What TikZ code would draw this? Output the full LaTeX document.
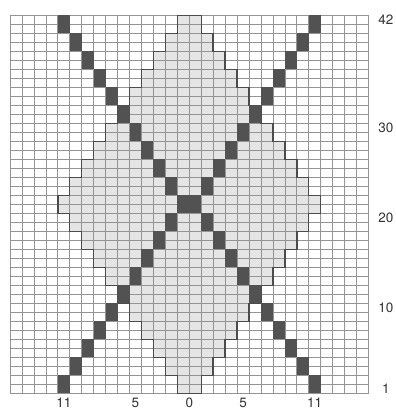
\documentclass[tikz,border=0pt]{standalone}
\usepackage{fontspec}
\setmainfont{TeX Gyre Heros}
\usepackage{tikz}
\definecolor{chartgrid}{gray}{0.58}
\definecolor{chartshade}{gray}{0.90}
\definecolor{chartdark}{gray}{0.32}
\definecolor{chartline}{gray}{0.30}
\definecolor{charttext}{gray}{0.2}
\begin{document}
\begin{tikzpicture}[x=11.95pt, y=9pt,
    lbl/.style={text=charttext, font=\fontsize{13.5}{15}\selectfont, inner sep=0pt}]
    \useasboundingbox[fill=white] (-0.837,-1.856) rectangle (32.30,43.70);
    % Shaded diamond
    \fill[chartshade] (14,42) -- (16,42)
      \foreach \j in {10,...,0}{ -- (26-\j,22+2*\j) -- (26-\j,20+2*\j) }
      \foreach \j in {1,...,10}{ -- (26-\j,22-2*\j) -- (26-\j,20-2*\j) }
      \foreach \j in {10,...,1}{ -- (4+\j,20-2*\j) -- (4+\j,22-2*\j) }
      -- (4,20) -- (4,22)
      \foreach \j in {1,...,10}{ -- (4+\j,20+2*\j) -- (4+\j,22+2*\j) }
      -- cycle;
    % Grid of stitches
    \draw[chartgrid, line width=0.7pt, xstep=1, ystep=1] (0,0) grid (30,42);
    % Outline of the diamond
    \draw[chartline, line width=1.4pt] (14,42) -- (16,42)
      \foreach \j in {10,...,0}{ -- (26-\j,22+2*\j) -- (26-\j,20+2*\j) }
      \foreach \j in {1,...,10}{ -- (26-\j,22-2*\j) -- (26-\j,20-2*\j) }
      \foreach \j in {10,...,1}{ -- (4+\j,20-2*\j) -- (4+\j,22-2*\j) }
      -- (4,20) -- (4,22)
      \foreach \j in {1,...,10}{ -- (4+\j,20+2*\j) -- (4+\j,22+2*\j) }
      -- cycle;
    % Dark diagonals
    \foreach \k in {1,...,11}{
      \fill[chartdark] (15-\k,22-2*\k) rectangle (16-\k,24-2*\k);
      \fill[chartdark] (15-\k,18+2*\k) rectangle (16-\k,20+2*\k);
      \fill[chartdark] (14+\k,22-2*\k) rectangle (15+\k,24-2*\k);
      \fill[chartdark] (14+\k,18+2*\k) rectangle (15+\k,20+2*\k);
    }
    % Row numbers
    \foreach \r in {1,10,20,30,42}
      \node[lbl] (row\r) at (31.46,\r-0.5) {\r};
    % Stitch numbers
    \node[lbl] (colL11) at (4.5,-1.08) {11};
    \node[lbl] (colL5) at (10.5,-1.08) {5};
    \node[lbl] (col0) at (15,-1.08) {0};
    \node[lbl] (colR5) at (19.5,-1.08) {5};
    \node[lbl] (colR11) at (25.5,-1.08) {11};
\end{tikzpicture}
\end{document}
